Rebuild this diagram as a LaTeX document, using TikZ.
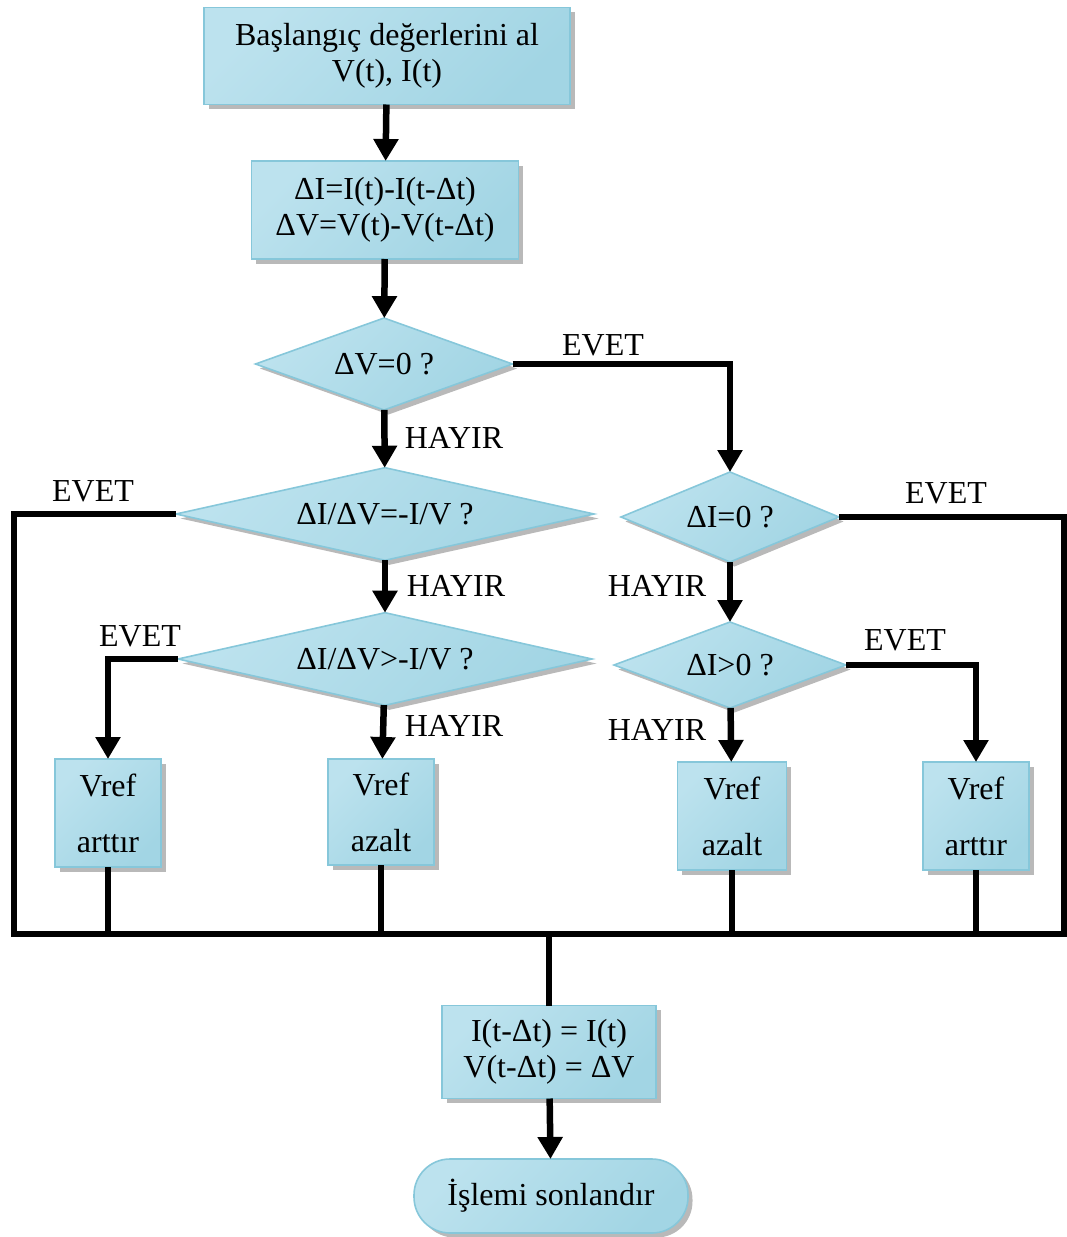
\documentclass[tikz,border=0pt]{standalone}
\usepackage{fontspec}
\setmainfont{Liberation Serif}
\usetikzlibrary{arrows.meta,shapes.geometric,shadows}

\definecolor{edgeblue}{HTML}{86C7DA}
\definecolor{fillA}{HTML}{BCE2EE}
\definecolor{fillB}{HTML}{E4F3F7}
\definecolor{fillC}{HTML}{A2D5E4}

\begin{document}
\begin{tikzpicture}[x=1pt,y=-1pt,
  every node/.style={font=\fontsize{32}{36}\selectfont},
  blk/.style={draw=edgeblue, line width=1.6pt,
    left color=fillA, middle color=fillB, right color=fillC, shading angle=45,
    drop shadow={shadow xshift=4.5pt, shadow yshift=-4.5pt, fill=gray!55, opacity=1},
    align=center, inner sep=0pt, outer sep=0pt},
  procbox/.style n args={2}{blk, rectangle, minimum width=#1, minimum height=#2},
  decide/.style n args={2}{blk, diamond, aspect=2.5, minimum width=#1, minimum height=#2},
  endbox/.style n args={2}{blk, rectangle, rounded corners=36pt, minimum width=#1, minimum height=#2},
  ln/.style={line width=6.5pt},
  arr/.style={ln, -{Triangle[length=22pt,width=24pt]}},
  lbl/.style={inner sep=0pt}
]
\useasboundingbox (0,0) rectangle (1067,1237);

% process steps and decisions
\node[procbox={366pt}{97pt}] (start) at (387,56) {Başlangıç değerlerini al\\V(t), I(t)};
\node[procbox={267pt}{98pt}] (diff) at (385,210) {ΔI=I(t)-I(t-Δt)\\ΔV=V(t)-V(t-Δt)};
\node[decide={257pt}{92pt}] (dv) at (384,364) {ΔV=0 ?};
\node[decide={418pt}{88pt}] (eq) at (385,514) {ΔI/ΔV=-I/V ?};
\node[decide={414pt}{88pt}] (gt) at (385,659) {ΔI/ΔV>-I/V ?};
\node[decide={218pt}{90pt}] (di) at (730,517) {ΔI=0 ?};
\node[decide={232pt}{86pt}] (dip) at (730,665) {ΔI>0 ?};

\node[procbox={106pt}{108pt}] (up1) at (108,813) {Vref\\[20pt]arttır};
\node[procbox={106pt}{106pt}] (dn1) at (381,812) {Vref\\[20pt]azalt};
\node[procbox={109pt}{108pt}] (dn2) at (732,816) {Vref\\[20pt]azalt};
\node[procbox={106pt}{108pt}] (up2) at (976,816) {Vref\\[20pt]arttır};

\node[procbox={214pt}{93pt}] (upd) at (549,1052) {I(t-Δt) = I(t)\\V(t-Δt) = ΔV};
\node[endbox={274pt}{74pt}] (stop) at (551,1196) {İşlemi sonlandır};

% collecting line at the bottom
\coordinate (busL) at (14,934);
\coordinate (busR) at (1064,934);

% branch labels
\node[lbl] (l1) at (603,345) {EVET};
\node[lbl] (l2) at (454,438) {HAYIR};
\node[lbl] (l3) at (93,491) {EVET};
\node[lbl] (l4) at (456,586) {HAYIR};
\node[lbl] (l5) at (140,636) {EVET};
\node[lbl] (l6) at (454,726) {HAYIR};
\node[lbl] (l7) at (946,493) {EVET};
\node[lbl] (l8) at (657,586) {HAYIR};
\node[lbl] (l9) at (905,640) {EVET};
\node[lbl] (l10) at (657,730) {HAYIR};

% connectors
\draw[arr] (start) -- (diff);
\draw[arr] (diff) -- (dv);
\draw[arr] (dv.east) -| (di.north);
\draw[arr] (dv) -- (eq);
\draw[arr] (eq) -- (gt);
\draw[arr] (gt.west) -| (up1.north);
\draw[arr] (gt) -- (dn1);
\draw[arr] (di) -- (dip);
\draw[arr] (dip) -- (dn2);
\draw[arr] (dip.east) -| (up2.north);

\draw[ln] (eq.west) -| (busL) -- (busR) |- (di.east);
\draw[ln] (up1.south) -- (up1.south |- busL);
\draw[ln] (dn1.south) -- (dn1.south |- busL);
\draw[ln] (dn2.south) -- (dn2.south |- busL);
\draw[ln] (up2.south) -- (up2.south |- busL);
\draw[ln] (upd.north |- busL) -- (upd.north);
\draw[arr] (upd) -- (stop);
\end{tikzpicture}
\end{document}
